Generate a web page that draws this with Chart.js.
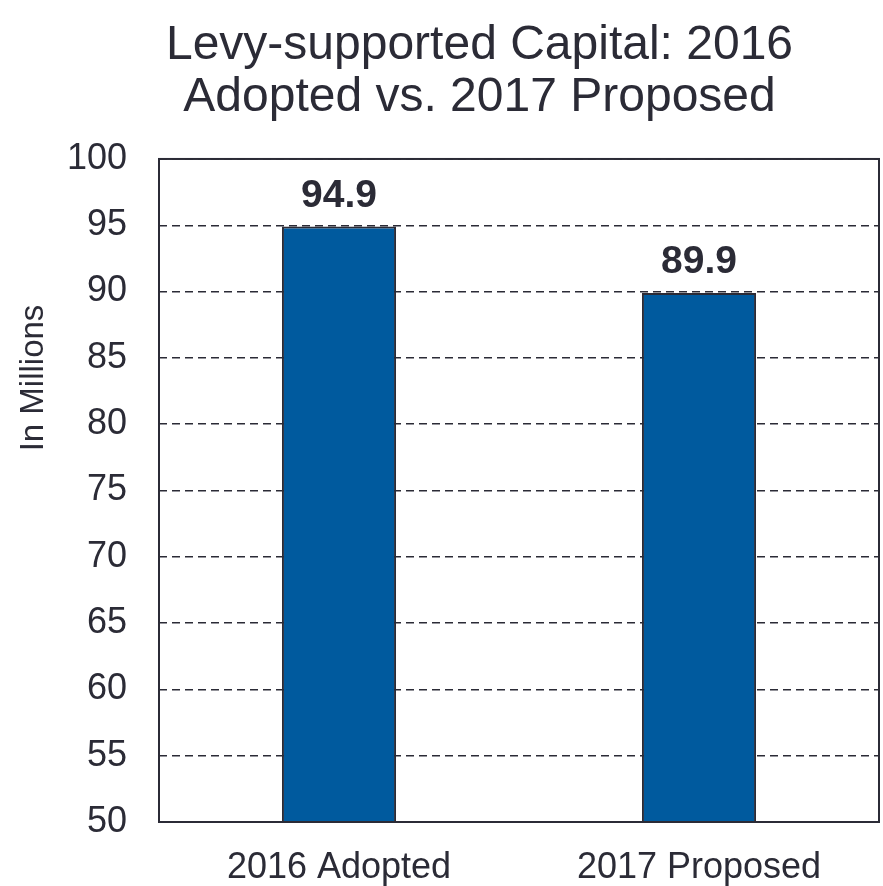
<!DOCTYPE html>
<html>
<head>
<meta charset="utf-8">
<script src="https://cdn.jsdelivr.net/npm/chart.js@4"></script>
<style>
  html, body { margin: 0; padding: 0; background: #fff; }
</style>
</head>
<body>
<canvas id="chart" width="883" height="886"></canvas>
<script>
const categories = ["2016 Adopted", "2017 Proposed"];
const values = [94.9, 89.9];
const titleLines = ["Levy-supported Capital: 2016", "Adopted vs. 2017 Proposed"];
const yLabel = "In Millions";

const ink = "#2b2b36";
const font = "'Liberation Sans', Arial, sans-serif";

// box round the plot area; title centred over the right part like the original
const frame = {
  id: "frame",
  afterLayout(chart) {
    if (chart.titleBlock) chart.titleBlock.left = 80;
  },
  afterDraw(chart) {
    const { ctx, chartArea: a } = chart;
    ctx.save();
    ctx.strokeStyle = ink;
    ctx.lineWidth = 2;
    ctx.strokeRect(a.left, a.top, a.right - a.left, a.bottom - a.top);
    ctx.restore();
  }
};

// value labels above bars, and the y axis title
const labels = {
  id: "labels",
  afterDatasetsDraw(chart) {
    const ctx = chart.ctx;
    ctx.save();
    ctx.fillStyle = ink;
    ctx.textAlign = "center";
    ctx.textBaseline = "alphabetic";
    ctx.font = "bold 39px " + font;
    chart.getDatasetMeta(0).data.forEach((bar, i) => {
      ctx.fillText(values[i].toFixed(1), bar.x, bar.y - 20);
    });
    ctx.font = "33px " + font;
    ctx.translate(43, 378);
    ctx.rotate(-Math.PI / 2);
    ctx.fillText(yLabel, 0, 0);
    ctx.restore();
  }
};

new Chart(document.getElementById("chart"), {
  type: "bar",
  data: {
    labels: categories,
    datasets: [{
      data: values,
      backgroundColor: "#005a9e",
      borderColor: ink,
      borderWidth: 2,
      borderSkipped: false,
      barPercentage: 0.317,
      categoryPercentage: 1
    }]
  },
  options: {
    responsive: false,
    animation: false,
    layout: { padding: { left: 0, right: 4, top: 0, bottom: 0 } },
    plugins: {
      legend: { display: false },
      tooltip: { enabled: false },
      title: {
        display: true,
        text: titleLines,
        color: ink,
        font: { family: font, size: 48, weight: "normal", lineHeight: 1.083 },
        padding: { top: 20, bottom: 35 }
      }
    },
    scales: {
      x: {
        grid: { display: false },
        border: { display: false },
        ticks: { color: ink, font: { family: font, size: 36 }, padding: 16 },
        afterFit(scale) { scale.height = 64; }
      },
      y: {
        min: 50,
        max: 100,
        ticks: { stepSize: 5, color: ink, font: { family: font, size: 36 }, padding: 32 },
        grid: {
          color: ink,
          lineWidth: 1.5,
          drawTicks: false
        },
        border: { display: false, dash: [8, 5] },
        afterFit(scale) { scale.width = 159; }
      }
    }
  },
  plugins: [frame, labels]
});
</script>
</body>
</html>
